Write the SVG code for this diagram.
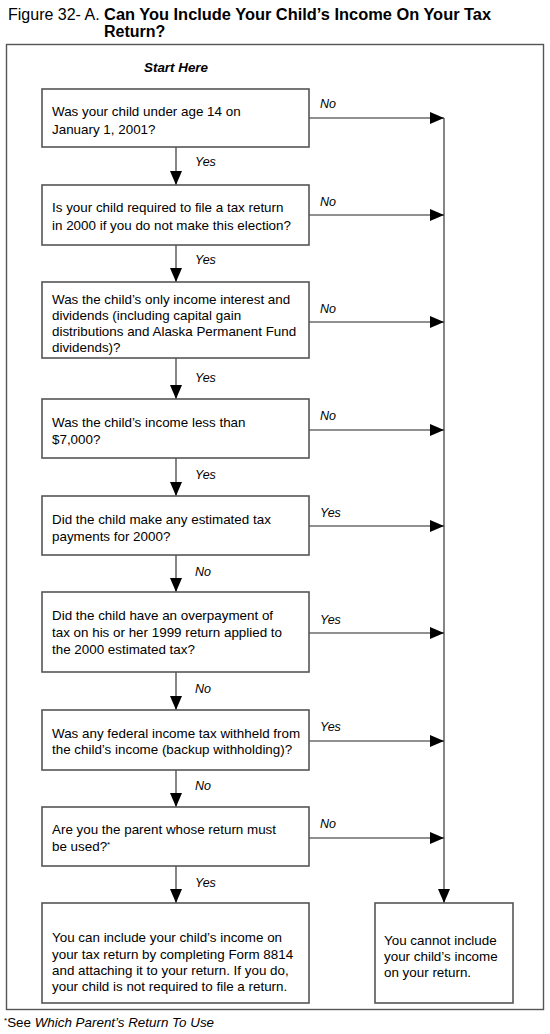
<svg xmlns="http://www.w3.org/2000/svg" width="550" height="1034" viewBox="0 0 550 1034">
<defs>
<marker id="ah" markerWidth="14" markerHeight="12" refX="14" refY="6" orient="auto" markerUnits="userSpaceOnUse">
<path d="M0,0 L14,6 L0,12 Z" fill="#000"/>
</marker>
<style>
text{font-family:"Liberation Sans",Arial,sans-serif;font-size:13.4px;fill:#000}
.title{font-size:16px}
.b{font-weight:bold}
.i{font-style:italic}
.lbl{font-style:italic;font-size:12.5px}
.box{fill:#fff;stroke:#555;stroke-width:1.6}
.frame{fill:none;stroke:#555;stroke-width:1.4}
.ln{fill:none;stroke:#222;stroke-width:1.1}
</style>
</defs>
<rect width="550" height="1034" fill="#fff"/>
<g id="title">
<text class="title" x="8" y="20">Figure 32- A. <tspan class="b" font-size="16.4">Can You Include Your Child’s Income On Your Tax</tspan></text>
<text class="title b" x="104" y="37" font-size="16.4">Return?</text>
</g>
<rect class="frame" x="6.5" y="44.5" width="537" height="965"/>
<text class="b i" x="176" y="72" text-anchor="middle" font-size="13">Start Here</text>
<g id="connectors">
<line class="ln" x1="176" y1="147" x2="176" y2="185" marker-end="url(#ah)"/>
<line class="ln" x1="176" y1="245" x2="176" y2="282" marker-end="url(#ah)"/>
<line class="ln" x1="176" y1="358" x2="176" y2="399" marker-end="url(#ah)"/>
<line class="ln" x1="176" y1="458" x2="176" y2="496" marker-end="url(#ah)"/>
<line class="ln" x1="176" y1="555" x2="176" y2="592" marker-end="url(#ah)"/>
<line class="ln" x1="176" y1="672" x2="176" y2="710" marker-end="url(#ah)"/>
<line class="ln" x1="176" y1="770" x2="176" y2="807" marker-end="url(#ah)"/>
<line class="ln" x1="176" y1="866" x2="176" y2="903" marker-end="url(#ah)"/>
<line class="ln" x1="309" y1="118" x2="444" y2="118" marker-end="url(#ah)"/>
<line class="ln" x1="309" y1="215" x2="444" y2="215" marker-end="url(#ah)"/>
<line class="ln" x1="309" y1="322" x2="444" y2="322" marker-end="url(#ah)"/>
<line class="ln" x1="309" y1="430" x2="444" y2="430" marker-end="url(#ah)"/>
<line class="ln" x1="309" y1="526" x2="444" y2="526" marker-end="url(#ah)"/>
<line class="ln" x1="309" y1="633" x2="444" y2="633" marker-end="url(#ah)"/>
<line class="ln" x1="309" y1="741" x2="444" y2="741" marker-end="url(#ah)"/>
<line class="ln" x1="309" y1="838" x2="444" y2="838" marker-end="url(#ah)"/>
<line class="ln" x1="444" y1="118" x2="444" y2="903" marker-end="url(#ah)"/>
<text class="lbl" x="195" y="166">Yes</text>
<text class="lbl" x="195" y="264">Yes</text>
<text class="lbl" x="195" y="382">Yes</text>
<text class="lbl" x="195" y="479">Yes</text>
<text class="lbl" x="195" y="576">No</text>
<text class="lbl" x="195" y="693">No</text>
<text class="lbl" x="195" y="790">No</text>
<text class="lbl" x="195" y="887">Yes</text>
<text class="lbl" x="320" y="108">No</text>
<text class="lbl" x="320" y="206">No</text>
<text class="lbl" x="320" y="313">No</text>
<text class="lbl" x="320" y="420">No</text>
<text class="lbl" x="320" y="517">Yes</text>
<text class="lbl" x="320" y="624">Yes</text>
<text class="lbl" x="320" y="731">Yes</text>
<text class="lbl" x="320" y="828">No</text>
</g>
<g id="q1">
<rect class="box" x="42" y="89" width="267" height="58"/>
<text x="52" y="116">Was your child under age 14 on</text>
<text x="52" y="134">January 1, 2001?</text>
</g>
<g id="q2">
<rect class="box" x="42" y="185" width="267" height="60"/>
<text x="52" y="212">Is your child required to file a tax return</text>
<text x="52" y="230">in 2000 if you do not make this election?</text>
</g>
<g id="q3">
<rect class="box" x="42" y="282" width="267" height="76"/>
<text x="52" y="304">Was the child’s only income interest and</text>
<text x="52" y="320">dividends (including capital gain</text>
<text x="52" y="336">distributions and Alaska Permanent Fund</text>
<text x="52" y="352">dividends)?</text>
</g>
<g id="q4">
<rect class="box" x="42" y="399" width="267" height="59"/>
<text x="52" y="427">Was the child’s income less than</text>
<text x="52" y="444">$7,000?</text>
</g>
<g id="q5">
<rect class="box" x="42" y="496" width="267" height="59"/>
<text x="52" y="524">Did the child make any estimated tax</text>
<text x="52" y="541">payments for 2000?</text>
</g>
<g id="q6">
<rect class="box" x="42" y="592" width="267" height="80"/>
<text x="52" y="620">Did the child have an overpayment of</text>
<text x="52" y="637">tax on his or her 1999 return applied to</text>
<text x="52" y="654">the 2000 estimated tax?</text>
</g>
<g id="q7">
<rect class="box" x="42" y="710" width="267" height="60"/>
<text x="52" y="738">Was any federal income tax withheld from</text>
<text x="52" y="754">the child’s income (backup withholding)?</text>
</g>
<g id="q8">
<rect class="box" x="42" y="807" width="267" height="59"/>
<text x="52" y="834">Are you the parent whose return must</text>
<text x="52" y="851">be used?<tspan font-size="8" dy="-4">*</tspan></text>
</g>
<g id="yes-result">
<rect class="box" x="42" y="903" width="267" height="100"/>
<text x="52" y="942">You can include your child’s income on</text>
<text x="52" y="959">your tax return by completing Form 8814</text>
<text x="52" y="975">and attaching it to your return. If you do,</text>
<text x="52" y="991">your child is not required to file a return.</text>
</g>
<g id="no-result">
<rect class="box" x="375" y="903" width="138" height="100"/>
<text x="384" y="945">You cannot include</text>
<text x="384" y="961">your child’s income</text>
<text x="384" y="977">on your return.</text>
</g>
<text x="4" y="1027"><tspan font-size="8" dy="-4">*</tspan><tspan dy="4">See </tspan><tspan class="i">Which Parent’s Return To Use</tspan></text>
</svg>
